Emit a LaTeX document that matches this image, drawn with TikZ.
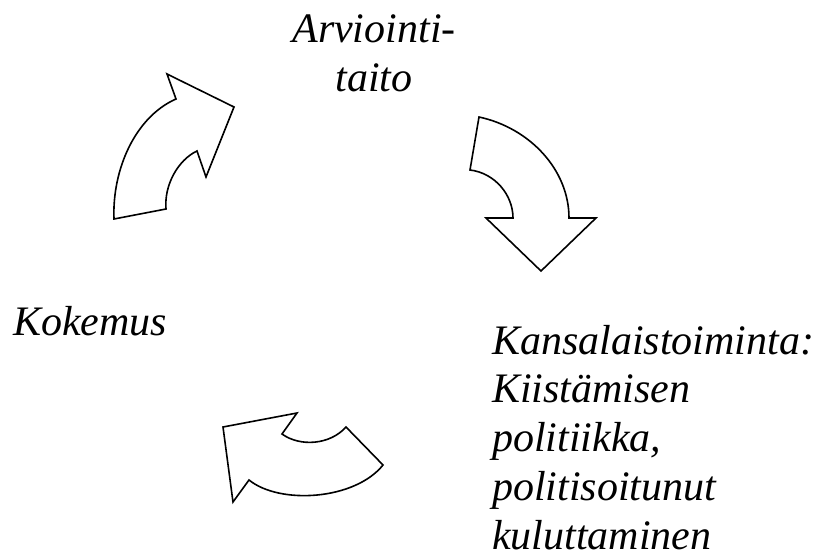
\documentclass[tikz,border=0pt]{standalone}
\usepackage{fontspec}
\setmainfont{Liberation Serif}
\begin{document}
\begin{tikzpicture}[x=1pt,y=-1pt,
  bigarrow/.style={draw=black,line width=1.6pt,fill=white,line join=miter},
  lbl/.style={inner sep=0pt,font=\itshape\fontsize{42}{48.7}\selectfont}]
\useasboundingbox (0,0) rectangle (820,554);
% arrow top-left (Kokemus -> Arviointitaito)
\draw[bigarrow] (114,219) .. controls (112,170) and (135,117) .. (176,99)
  -- (167,74) -- (234,107) -- (206,177) -- (197,151)
  .. controls (178,160) and (164,185) .. (166,209) -- cycle;
% arrow right (Arviointitaito -> Kansalaistoiminta)
\draw[bigarrow] (479,117) .. controls (530,128) and (569,170) .. (569,218)
  -- (596,218) -- (541,271) -- (486,218) -- (513,218)
  .. controls (513,195) and (495,173) .. (470,170) -- cycle;
% arrow bottom (Kansalaistoiminta -> Kokemus)
\draw[bigarrow] (383,465) .. controls (355,500) and (280,505) .. (249,480)
  -- (233,502) -- (223,427) -- (297,413) -- (282,434)
  .. controls (300,447) and (330,445) .. (346,427) -- cycle;
% labels (base anchor = baseline of the last line)
\node[lbl,anchor=base,align=center] (arv) at (374,91) {Arviointi-\\taito};
\node[lbl,anchor=base west] (kok) at (13,335) {Kokemus};
\node[lbl,anchor=base west,align=left] (kan) at (492,549)
  {Kansalaistoiminta:\\Kiistämisen\\politiikka,\\politisoitunut\\kuluttaminen};
\end{tikzpicture}
\end{document}
